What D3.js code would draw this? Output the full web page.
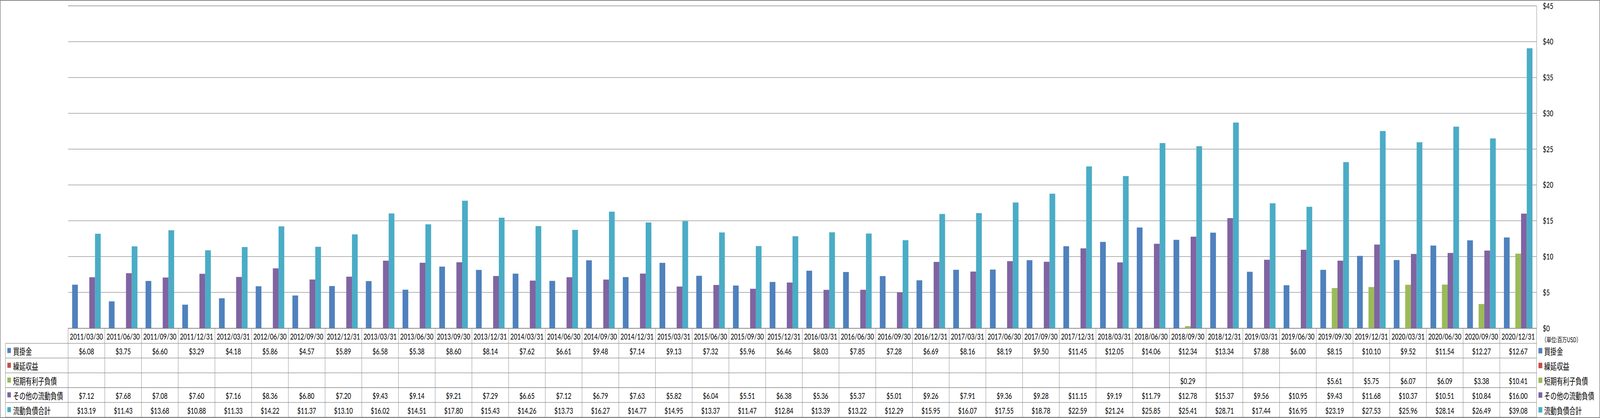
<!DOCTYPE html>
<html>
<head>
<meta charset="utf-8">
<script src="https://cdn.jsdelivr.net/npm/d3@7"></script>
<style>
html,body{margin:0;padding:0;background:#fff;width:100%;height:100%;overflow:hidden;}
svg{display:block;width:100vw;height:100vh;}
</style>
</head>
<body>
<svg id="chart" viewBox="0 0 5876 1071" preserveAspectRatio="none"></svg>
<script>
const dates = ["2011/03/30","2011/06/30","2011/09/30","2011/12/31","2012/03/31","2012/06/30","2012/09/30","2012/12/31","2013/03/31","2013/06/30","2013/09/30","2013/12/31","2014/03/31","2014/06/30","2014/09/30","2014/12/31","2015/03/31","2015/06/30","2015/09/30","2015/12/31","2016/03/31","2016/06/30","2016/09/30","2016/12/31","2017/03/31","2017/06/30","2017/09/30","2017/12/31","2018/03/31","2018/06/30","2018/09/30","2018/12/31","2019/03/31","2019/06/30","2019/09/30","2019/12/31","2020/03/31","2020/06/30","2020/09/30","2020/12/31"];

const seriesNames = ["買掛金","繰延収益","短期有利子負債","その他の流動負債","流動負債合計"];
const seriesColors = ["#4F81BD","#C0504D","#9BBB59","#8064A2","#4BACC6"];

const accountsPayable = [6.08,3.75,6.60,3.29,4.18,5.86,4.57,5.89,6.58,5.38,8.60,8.14,7.62,6.61,9.48,7.14,9.13,7.32,5.96,6.46,8.03,7.85,7.28,6.69,8.16,8.19,9.50,11.45,12.05,14.06,12.34,13.34,7.88,6.00,8.15,10.10,9.52,11.54,12.27,12.67];
const deferredRevenue = dates.map(() => null);
const shortTermDebt = [null,null,null,null,null,null,null,null,null,null,null,null,null,null,null,null,null,null,null,null,null,null,null,null,null,null,null,null,null,null,0.29,null,null,null,5.61,5.75,6.07,6.09,3.38,10.41];
const otherCurrent = [7.12,7.68,7.08,7.60,7.16,8.36,6.80,7.20,9.43,9.14,9.21,7.29,6.65,7.12,6.79,7.63,5.82,6.04,5.51,6.38,5.36,5.37,5.01,9.26,7.91,9.36,9.28,11.15,9.19,11.79,12.78,15.37,9.56,10.95,9.43,11.68,10.37,10.51,10.84,16.00];
const totalCurrent = [13.19,11.43,13.68,10.88,11.33,14.22,11.37,13.10,16.02,14.51,17.80,15.43,14.26,13.73,16.27,14.77,14.95,13.37,11.47,12.84,13.39,13.22,12.29,15.95,16.07,17.55,18.78,22.59,21.24,25.85,25.41,28.71,17.44,16.95,23.19,27.53,25.96,28.14,26.49,39.08];

const yTicks = [0,5,10,15,20,25,30,35,40,45];
const unitLabel = "（単位:百万USD）";

const seriesValues = [accountsPayable, deferredRevenue, shortTermDebt, otherCurrent, totalCurrent];

const W = 5876, H = 1071;
const plotL = 250, plotR = 5643, plotT = 15, plotB = 841;
const tableBottom = 1069;
const legendColL = 20;
const grid = "#868686";
const numFont = "Lato, 'Noto Sans', sans-serif";
const jpFont = "'Noto Sans CJK JP', 'Noto Sans', sans-serif";

const svg = d3.select("#chart");

// outer border
svg.append("rect").attr("x",1).attr("y",1).attr("width",W-2).attr("height",H-2)
  .attr("fill","#fff").attr("stroke",grid).attr("stroke-width",2);

const x = d3.scaleBand().domain(dates).range([plotL, plotR]).padding(0);
const bw = x.bandwidth();
const x1 = d3.scaleBand().domain(seriesNames).range([bw*0.111, bw*0.889]).padding(0);
const y = d3.scaleLinear().domain([0,45]).range([plotB, plotT]);

// gridlines
svg.append("g").selectAll("line").data(yTicks).join("line")
  .attr("x1",plotL).attr("x2",plotR)
  .attr("y1",d=>y(d)).attr("y2",d=>y(d))
  .attr("stroke",grid).attr("stroke-width",1.3);

// bars
const groups = svg.append("g").selectAll("g").data(dates).join("g")
  .attr("transform",d=>`translate(${x(d)},0)`);
groups.selectAll("rect")
  .data((d,i)=>seriesNames.map((s,k)=>({s, k, v: seriesValues[k][i]})).filter(e=>e.v!=null))
  .join("rect")
  .attr("x",e=>x1(e.s)).attr("width",x1.bandwidth())
  .attr("y",e=>y(e.v)).attr("height",e=>y(0)-y(e.v))
  .attr("fill",e=>seriesColors[e.k]);

// right axis
const axis = d3.axisRight(y).tickValues(yTicks).tickFormat(d=>"$"+d).tickSize(0).tickSizeOuter(0).tickPadding(23);
const ag = svg.append("g").attr("transform",`translate(${plotR},0)`).call(axis);
ag.select(".domain").attr("stroke",grid).attr("stroke-width",1.3);
ag.selectAll("text").attr("font-family",numFont).attr("font-size",22).attr("fill","#000");

// unit label
svg.append("text").attr("x",5662).attr("y",869).attr("dominant-baseline","central")
  .attr("font-family",jpFont).attr("font-size",17.5).attr("fill","#000").text(unitLabel);

// data table
const rows = d3.scaleBand().domain(["header"].concat(seriesNames)).range([plotB+0.7, tableBottom]);
const tg = svg.append("g");
tg.append("line").attr("x1",plotL).attr("x2",plotR).attr("y1",plotB+0.7).attr("y2",plotB+0.7)
  .attr("stroke",grid).attr("stroke-width",1.3);
seriesNames.forEach((s,k)=>{
  tg.append("line").attr("x1",legendColL).attr("x2",plotR)
    .attr("y1",rows(s)).attr("y2",rows(s)).attr("stroke",grid).attr("stroke-width",1.3);
});
tg.append("line").attr("x1",legendColL).attr("x2",plotR).attr("y1",tableBottom).attr("y2",tableBottom)
  .attr("stroke",grid).attr("stroke-width",1.3);
tg.selectAll("line.v").data(dates.concat(["end"])).join("line").attr("class","v")
  .attr("x1",d=>d==="end"?plotR:x(d)).attr("x2",d=>d==="end"?plotR:x(d))
  .attr("y1",plotB).attr("y2",tableBottom).attr("stroke",grid).attr("stroke-width",1.3);
tg.append("line").attr("x1",legendColL).attr("x2",legendColL).attr("y1",rows(seriesNames[0])).attr("y2",tableBottom)
  .attr("stroke",grid).attr("stroke-width",1.3);

tg.selectAll("text.h").data(dates).join("text").attr("class","h")
  .attr("x",d=>x(d)+bw/2).attr("y",rows("header")+rows.bandwidth()/2+1)
  .attr("text-anchor","middle").attr("dominant-baseline","central")
  .attr("font-family",numFont).attr("font-size",22).attr("fill","#000").text(d=>d);

const fmt = d3.format("$.2f");
seriesNames.forEach((s,k)=>{
  const cy = rows(s)+rows.bandwidth()/2;
  tg.append("g").selectAll("text").data(dates.map((d,i)=>({d, v: seriesValues[k][i]})).filter(e=>e.v!=null))
    .join("text")
    .attr("x",e=>x(e.d)+bw/2).attr("y",cy+1)
    .attr("text-anchor","middle").attr("dominant-baseline","central")
    .attr("font-family",numFont).attr("font-size",22).attr("fill","#000").text(e=>fmt(e.v));
  tg.append("rect").attr("x",27).attr("y",cy-7).attr("width",13).attr("height",13).attr("fill",seriesColors[k]);
  tg.append("text").attr("x",48).attr("y",cy+1).attr("dominant-baseline","central")
    .attr("font-family",jpFont).attr("font-size",23).attr("fill","#000").text(s);
  svg.append("rect").attr("x",5650).attr("y",cy-7).attr("width",14).attr("height",14).attr("fill",seriesColors[k]);
  svg.append("text").attr("x",5671).attr("y",cy+1).attr("dominant-baseline","central")
    .attr("font-family",jpFont).attr("font-size",23).attr("fill","#000").text(s);
});
</script>
</body>
</html>
